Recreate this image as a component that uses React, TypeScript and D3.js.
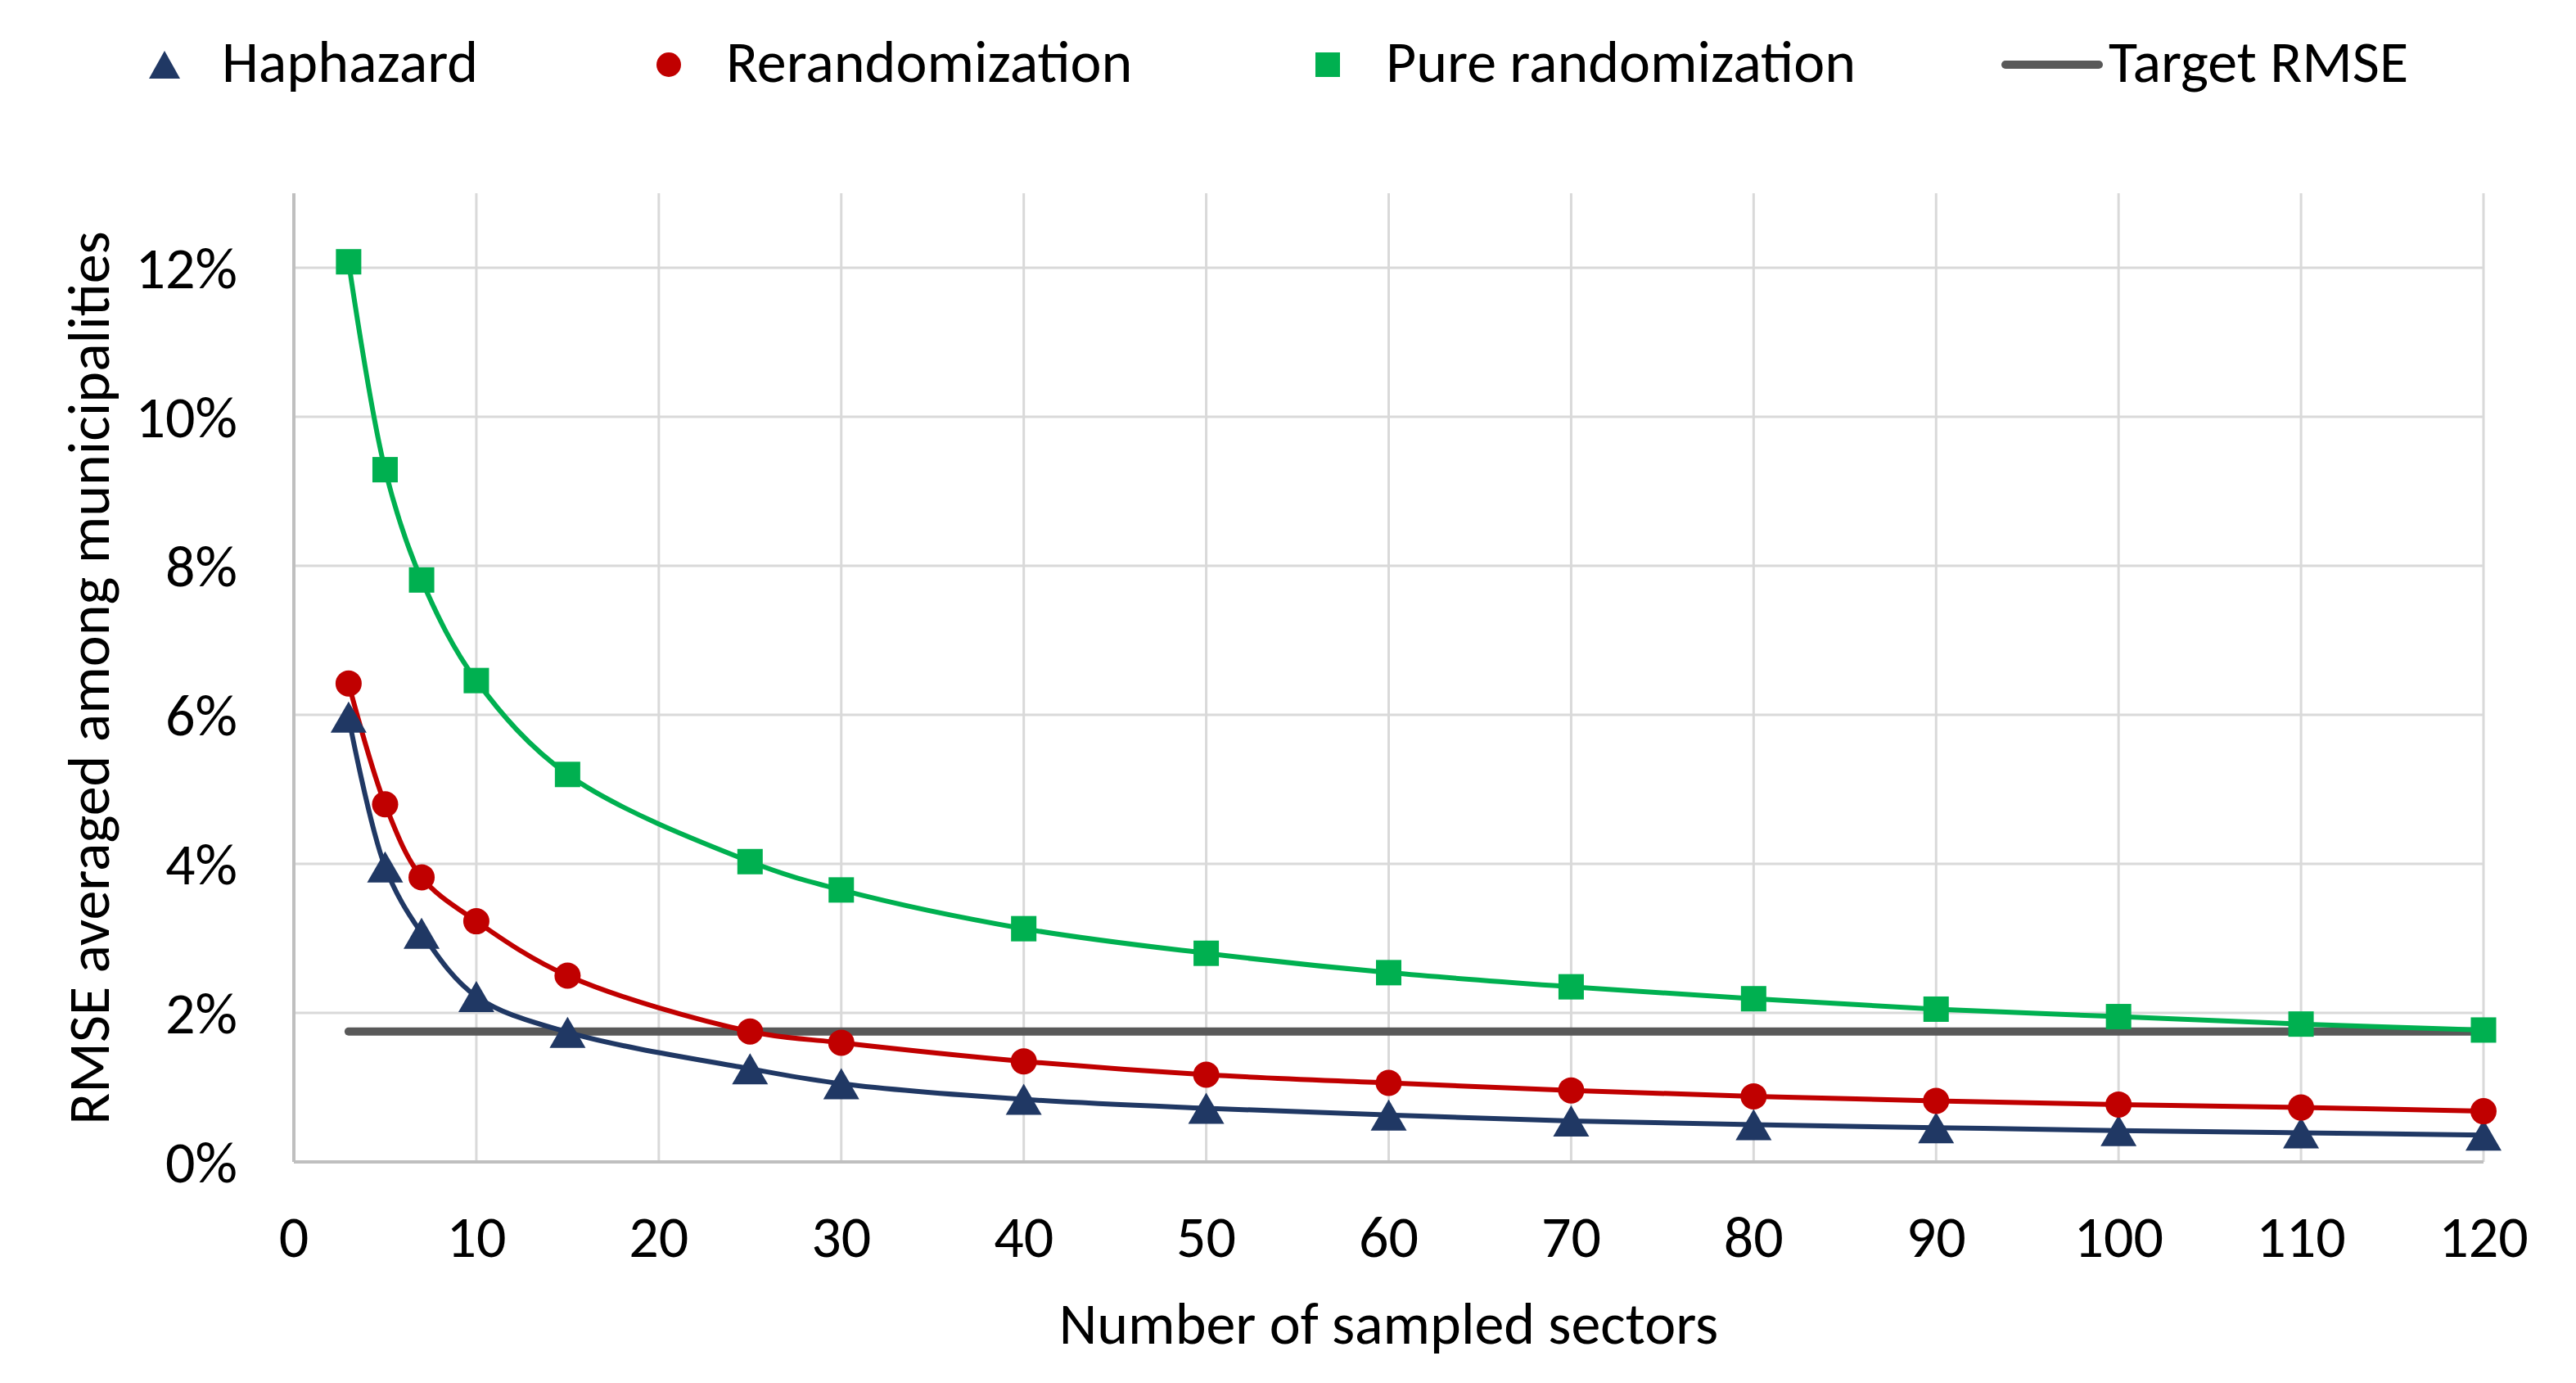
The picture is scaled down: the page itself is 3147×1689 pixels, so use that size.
import React from 'react';
import * as d3 from 'd3';

const sectors = [3, 5, 7, 10, 15, 25, 30, 40, 50, 60, 70, 80, 90, 100, 110, 120];
const haphazard = [0.0597, 0.0396, 0.0307, 0.0222, 0.0174, 0.0125, 0.0105, 0.0084, 0.0072, 0.0063, 0.0055, 0.0050, 0.0046, 0.0042, 0.0039, 0.0036];
const rerandomization = [0.0642, 0.0480, 0.0382, 0.0323, 0.0250, 0.0175, 0.0160, 0.0135, 0.0117, 0.0106, 0.0096, 0.0088, 0.0082, 0.0077, 0.0073, 0.0068];
const pureRandomization = [0.1208, 0.0929, 0.0781, 0.0646, 0.0520, 0.0403, 0.0365, 0.0313, 0.0280, 0.0254, 0.0235, 0.0219, 0.0205, 0.0195, 0.0185, 0.0177];
const targetRmse = 0.0175;
const targetRange = [3, 120];

const xTicks = [0, 10, 20, 30, 40, 50, 60, 70, 80, 90, 100, 110, 120];
const yTicks = [0, 0.02, 0.04, 0.06, 0.08, 0.1, 0.12];

const NAVY = '#203864';
const RED = '#C00000';
const GREEN = '#00B050';
const GREY = '#595959';
const FONT = "Carlito, Calibri, 'Liberation Sans', Arial, sans-serif";
const FS = 72;

const W = 3147;
const H = 1689;

export default function App() {
  const x = d3.scaleLinear().domain([0, 120]).range([359, 3034]);
  const y = d3.scaleLinear().domain([0, 0.13]).range([1419, 236]);

  const line = (vals: number[]) =>
    d3.line<number>()
      .x((_, i) => x(sectors[i]))
      .y(d => y(d))
      .curve(d3.curveCatmullRom.alpha(0.5))(vals) || '';

  const tri = (cx: number, cy: number, w = 44, h = 38) =>
    `M${cx - w / 2},${cy + h / 2}L${cx},${cy - h / 2}L${cx + w / 2},${cy + h / 2}Z`;

  const pct = d3.format('.0%');

  return (
    <svg width={W} height={H} style={{ position: 'absolute', left: 0, top: 0, background: '#fff' }}
      fontFamily={FONT}>
      {/* gridlines */}
      {yTicks.slice(1).map(t => (
        <line key={'gy' + t} x1={x(0)} x2={x(120)} y1={y(t)} y2={y(t)} stroke="#D9D9D9" strokeWidth={3} />
      ))}
      {xTicks.slice(1).map(t => (
        <line key={'gx' + t} x1={x(t)} x2={x(t)} y1={y(0)} y2={y(0.13)} stroke="#D9D9D9" strokeWidth={3} />
      ))}
      {/* axes */}
      <line x1={x(0)} x2={x(0)} y1={y(0.13)} y2={y(0)} stroke="#BFBFBF" strokeWidth={4} />
      <line x1={x(0)} x2={x(120)} y1={y(0)} y2={y(0)} stroke="#BFBFBF" strokeWidth={4} />

      {/* tick labels */}
      {yTicks.map(t => (
        <text key={'ty' + t} x={290} y={y(t)} dy="0.35em" textAnchor="end" fontSize={FS} fill="#000">
          {pct(t)}
        </text>
      ))}
      {xTicks.map(t => (
        <text key={'tx' + t} x={x(t)} y={1535} textAnchor="middle" fontSize={FS} fill="#000">
          {t}
        </text>
      ))}

      {/* axis titles */}
      <text x={(x(0) + x(120)) / 2} y={1641} textAnchor="middle" fontSize={FS} fill="#000">
        Number of sampled sectors
      </text>
      <text transform="translate(133,828) rotate(-90)" textAnchor="middle" fontSize={FS} fill="#000">
        RMSE averaged among municipalities
      </text>

      {/* target line */}
      <line x1={x(targetRange[0])} x2={x(targetRange[1])} y1={y(targetRmse)} y2={y(targetRmse)}
        stroke={GREY} strokeWidth={10} strokeLinecap="round" />

      {/* series lines */}
      <path d={line(haphazard)} fill="none" stroke={NAVY} strokeWidth={6} />
      <path d={line(rerandomization)} fill="none" stroke={RED} strokeWidth={6} />
      <path d={line(pureRandomization)} fill="none" stroke={GREEN} strokeWidth={6} />

      {/* markers */}
      {haphazard.map((v, i) => (
        <path key={'h' + i} d={tri(x(sectors[i]), y(v))} fill={NAVY} />
      ))}
      {rerandomization.map((v, i) => (
        <circle key={'r' + i} cx={x(sectors[i])} cy={y(v)} r={16} fill={RED} />
      ))}
      {pureRandomization.map((v, i) => (
        <rect key={'p' + i} x={x(sectors[i]) - 15.5} y={y(v) - 15.5} width={31} height={31} fill={GREEN} />
      ))}

      {/* legend */}
      <g fontSize={FS} fill="#000">
        <path d={tri(201, 79, 38, 34)} fill={NAVY} />
        <text x={271} y={100}>Haphazard</text>
        <circle cx={817} cy={79} r={15} fill={RED} />
        <text x={887} y={100}>Rerandomization</text>
        <rect x={1607} y={64} width={30} height={30} fill={GREEN} />
        <text x={1693} y={100}>Pure randomization</text>
        <line x1={2450} x2={2564} y1={79} y2={79} stroke={GREY} strokeWidth={10} strokeLinecap="round" />
        <text x={2576} y={100}>Target RMSE</text>
      </g>
    </svg>
  );
}
